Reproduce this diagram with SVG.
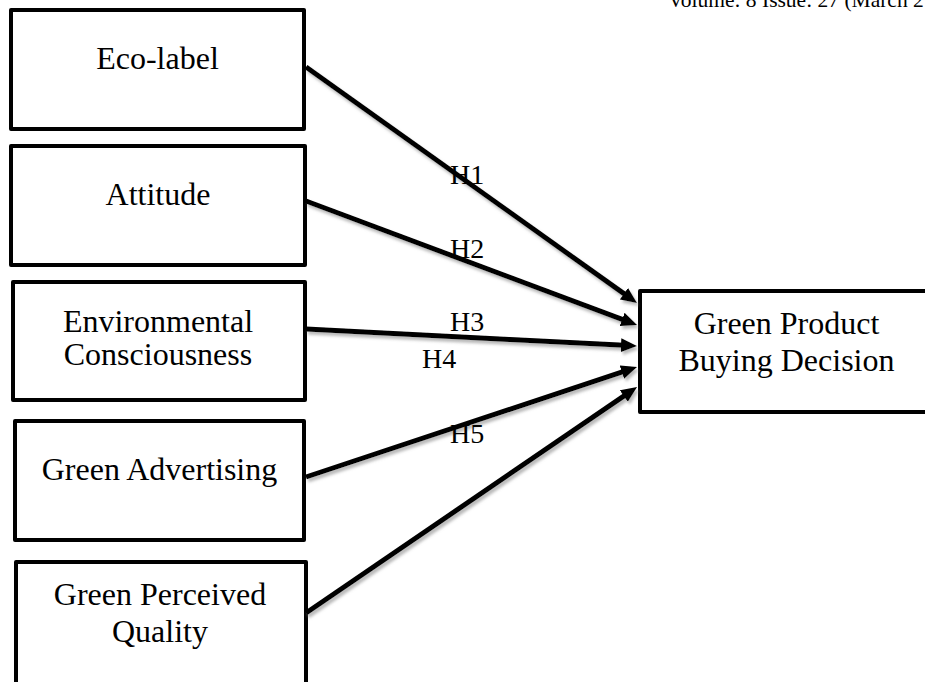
<svg xmlns="http://www.w3.org/2000/svg" width="925" height="682" viewBox="0 0 925 682">
<style>
.box{fill:#fff;stroke:#000;stroke-width:4;stroke-linejoin:round}
.t{font-family:"Liberation Serif","Times New Roman",serif;font-size:32px;fill:#000;text-anchor:middle}
.h{font-family:"Liberation Serif","Times New Roman",serif;font-size:28px;fill:#000}
.hdr{font-family:"Liberation Serif","Times New Roman",serif;font-size:21.5px;fill:#000}
.c{fill:none;stroke:#000;stroke-width:5;marker-end:url(#ah)}
</style>
<defs>
<marker id="ah" markerUnits="userSpaceOnUse" markerWidth="16" markerHeight="14" refX="3" refY="7" orient="auto">
<path d="M0,0 L16,7 L0,14 z" fill="#000"/>
</marker>
<filter id="sh" x="-5%" y="-5%" width="110%" height="115%">
<feDropShadow dx="2" dy="3" stdDeviation="1.5" flood-color="#888" flood-opacity="0.6"/>
</filter>
</defs>
<text class="hdr" x="668" y="7">Volume: 8 Issue: 27 (March 2</text>
<g id="n1"><rect class="box" x="11" y="10" width="293" height="119"/><text class="t" x="157.5" y="69">Eco-label</text></g>
<g id="n2"><rect class="box" x="11" y="146" width="294" height="119"/><text class="t" x="158" y="205">Attitude</text></g>
<g id="n3"><rect class="box" x="13" y="282" width="292" height="118"/><text class="t" x="158" y="332">Environmental</text><text class="t" x="158" y="365">Consciousness</text></g>
<g id="n4"><rect class="box" x="15" y="421" width="289" height="119"/><text class="t" x="159.5" y="480">Green Advertising</text></g>
<g id="n5"><rect class="box" x="16" y="562" width="290" height="130"/><text class="t" x="160" y="605">Green Perceived</text><text class="t" x="160" y="642">Quality</text></g>
<g id="n6"><rect class="box" x="640" y="291" width="300" height="121"/><text class="t" x="786.5" y="334">Green Product</text><text class="t" x="786.5" y="371">Buying Decision</text></g>
<g id="connectors" filter="url(#sh)">
<line class="c" x1="306" y1="67" x2="626.4" y2="295.4"/>
<line class="c" x1="306" y1="201" x2="624.9" y2="320.4"/>
<line class="c" x1="306" y1="329" x2="624" y2="345.3"/>
<line class="c" x1="306" y1="477" x2="624.7" y2="371.1"/>
<line class="c" x1="306" y1="613" x2="626.3" y2="394.4"/>
</g>
<g id="labels">
<text class="h" x="450" y="184">H1</text>
<text class="h" x="450" y="258">H2</text>
<text class="h" x="450" y="331">H3</text>
<text class="h" x="422" y="368">H4</text>
<text class="h" x="450" y="443">H5</text>
</g>
</svg>
